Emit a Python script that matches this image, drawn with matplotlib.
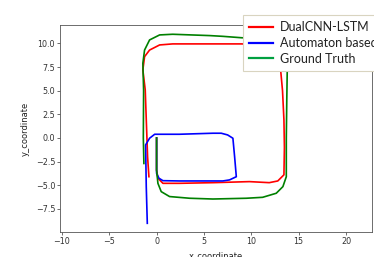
import matplotlib
matplotlib.use("Agg")
import matplotlib.pyplot as plt

# Trajectories (x, y in metres)
dual_x = [0.0, 0.0, 0.0, 0.14, 0.67, 2.4, 6.0, 9.8, 11.9, 12.8, 13.45, 13.5, 13.45, 13.3, 13.1,
          12.9, 12.3, 11.0, 9.0, 5.6, 1.7, 0.32, -0.74, -1.27, -1.45, -1.2, -1.05, -0.95, -0.81]
dual_y = [0.0, -2.0, -3.4, -4.26, -4.8, -4.8, -4.73, -4.62, -4.73, -4.55, -3.9, -1.0, 1.9, 5.0, 7.2,
          8.6, 9.5, 9.85, 9.95, 9.95, 9.95, 9.84, 9.3, 8.6, 7.2, 5.1, 0.85, -2.0, -4.1]

auto_x = [0.0, 0.0, 0.25, 0.67, 2.4, 7.0, 7.7, 8.42, 8.24, 8.06, 7.5, 6.83, 5.95, 2.4,
          -0.2, -0.74, -1.16, -1.09, -0.98]
auto_y = [0.0, -3.74, -4.26, -4.52, -4.55, -4.55, -4.44, -4.1, -1.98, -0.03, 0.32, 0.5, 0.5, 0.39,
          0.39, -0.03, -0.74, -5.15, -9.03]

gt_x = [0.0, 0.0, 0.14, 0.49, 1.37, 3.5, 5.95, 9.47, 11.2, 12.64, 13.34, 13.7, 13.7, 13.75, 13.8,
        13.7, 13.4, 12.8, 11.5, 9.0, 7.0, 5.6, 1.7, 0.32, -0.74, -1.27, -1.45, -1.37, -1.4, -1.34]
gt_y = [0.0, -3.4, -4.8, -5.68, -6.2, -6.38, -6.46, -6.38, -6.28, -5.85, -5.15, -4.1, 0.0, 4.0, 7.2,
        9.0, 9.9, 10.3, 10.5, 10.6, 10.75, 10.83, 10.97, 10.9, 10.37, 9.3, 7.9, 5.0, 0.0, -2.7]

labels = ["DualCNN-LSTM", "Automaton based", "Ground Truth"]

fig = plt.figure(figsize=(3.74, 2.57), dpi=100)
ax = fig.add_axes([60 / 374, 25 / 257, 312 / 374, 207 / 257])

ax.plot(dual_x, dual_y, color="red", lw=1.2, label=labels[0])
ax.plot(auto_x, auto_y, color="blue", lw=1.2, label=labels[1])
ax.plot(gt_x, gt_y, color="green", lw=1.2, label=labels[2])

ax.set_xlim(-10.2, 22.75)
ax.set_ylim(-9.95, 11.95)
ax.set_xticks([-10, -5, 0, 5, 10, 15, 20])
ax.set_yticks([-7.5, -5.0, -2.5, 0.0, 2.5, 5.0, 7.5, 10.0])
ax.tick_params(labelsize=5.8, length=2, width=0.5, pad=1.5, colors="#333333")
for s in ax.spines.values():
    s.set_linewidth(0.6)
    s.set_color("#555555")

# the reference crops the x label at the bottom edge
ax.set_xlabel("x_coordinate", fontsize=6, color="#222222", labelpad=3.5)
ax.set_ylabel("y_coordinate", fontsize=6, color="#222222", labelpad=4)

leg = ax.legend(loc="upper left", bbox_to_anchor=(243 / 374, 1 - 15 / 257),
                bbox_transform=fig.transFigure, borderaxespad=0, fancybox=False,
                framealpha=1, edgecolor="#d9d4c0", borderpad=0.5, labelspacing=0.3,
                handlelength=1.9, handletextpad=0.55,
                prop={"family": "Lato", "size": 9})
leg.get_frame().set_linewidth(0.8)
for h, c in zip(leg.get_lines(), ["#ff0000", "#0000ff", "#00a040"]):
    h.set_color(c)
    h.set_linewidth(1.6)
for t in leg.get_texts():
    t.set_color("#222222")

fig.savefig("out.png", dpi=100)
